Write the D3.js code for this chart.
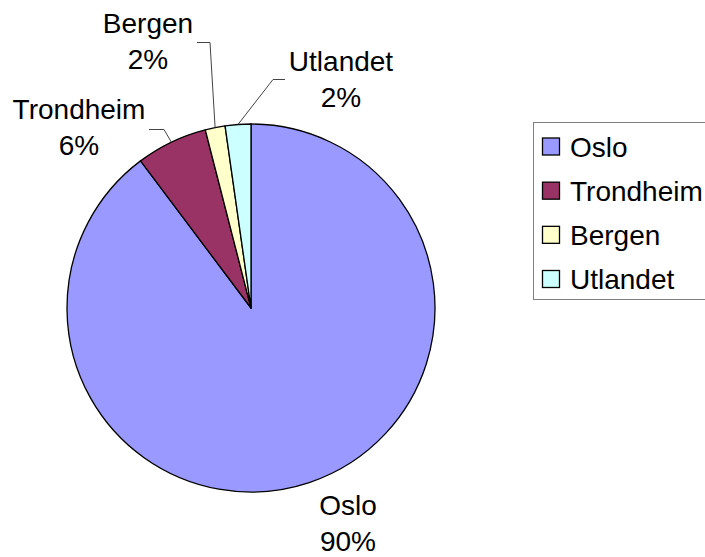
<!DOCTYPE html>
<html>
<head>
<meta charset="utf-8">
<script src="https://cdn.jsdelivr.net/npm/d3@7"></script>
<style>
html,body{margin:0;padding:0;background:#fff;}
svg{display:block;}
text{font-family:"Liberation Sans",Arial,sans-serif;fill:#000;}
</style>
</head>
<body>
<svg id="chart" width="705" height="557"></svg>
<script>
// ---- data ----
const categories = ["Oslo", "Trondheim", "Bergen", "Utlandet"];
const values = [359, 25, 7, 9];
const colors = ["#9999FF", "#993366", "#FFFFCC", "#CCFFFF"];

// ---- layout (positions, not data) ----
const W = 705, H = 557;
const cx = 251, cy = 308, R = 184;
const fontSize = 28;
// label anchor (center x, first baseline y) and leader elbow for each slice
const labelPos = [
  {x: 348, y: 515, elbow: null},
  {x: 79, y: 119, elbow: [[149, 129.5], [164, 129.5]]},
  {x: 148, y: 33, elbow: [[197, 42.5], [210, 42.5]]},
  {x: 341, y: 71, elbow: [[285, 79.5], [273, 79.5]]}
];

const svg = d3.select("#chart");
const total = d3.sum(values);
const data = categories.map((c, i) => ({name: c, value: values[i], color: colors[i]}));

const pie = d3.pie().value(d => d.value).sort(null).startAngle(0).endAngle(2 * Math.PI);
const arcs = pie(data);
const arc = d3.arc().innerRadius(0).outerRadius(R);

const g = svg.append("g").attr("transform", `translate(${cx},${cy})`);
g.selectAll("path.slice").data(arcs).enter().append("path")
  .attr("class", "slice")
  .attr("d", arc)
  .attr("fill", d => d.data.color)
  .attr("stroke", "#000")
  .attr("stroke-width", 1.3)
  .attr("stroke-linejoin", "round");

// leader lines
arcs.forEach((a, i) => {
  const lp = labelPos[i];
  if (!lp.elbow) return;
  const mid = (a.startAngle + a.endAngle) / 2;
  const px = cx + R * Math.sin(mid), py = cy - R * Math.cos(mid);
  const pts = [lp.elbow[0], lp.elbow[1], [px, py]];
  svg.append("path")
    .attr("d", d3.line()(pts))
    .attr("fill", "none")
    .attr("stroke", "#444")
    .attr("stroke-width", 1);
});

// labels
arcs.forEach((a, i) => {
  const lp = labelPos[i];
  const pct = Math.round(a.data.value / total * 100) + "%";
  const t = svg.append("text")
    .attr("text-anchor", "middle")
    .attr("font-size", fontSize);
  t.append("tspan").attr("x", lp.x).attr("y", lp.y).text(a.data.name);
  t.append("tspan").attr("x", lp.x).attr("y", lp.y + 36).text(pct);
});

// legend
const lg = svg.append("g");
lg.append("rect")
  .attr("x", 533.5).attr("y", 122.5)
  .attr("width", 200).attr("height", 177)
  .attr("fill", "#fff").attr("stroke", "#808080").attr("stroke-width", 1);
const rowY = d3.scalePoint().domain(categories).range([146.5, 279]);
data.forEach(d => {
  const y = rowY(d.name);
  lg.append("rect")
    .attr("x", 542.5).attr("y", y - 8.5)
    .attr("width", 17).attr("height", 17)
    .attr("fill", d.color).attr("stroke", "#000").attr("stroke-width", 1.3);
  lg.append("text")
    .attr("x", 570).attr("y", y + 10)
    .attr("font-size", fontSize)
    .text(d.name);
});
</script>
</body>
</html>
